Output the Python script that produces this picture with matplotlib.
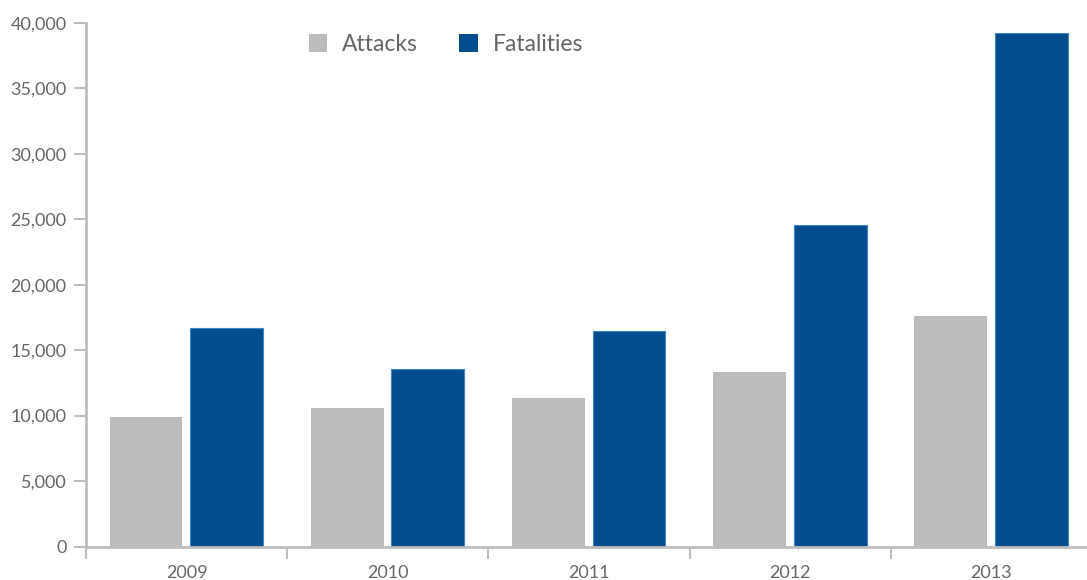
import matplotlib
matplotlib.use("Agg")
import matplotlib.pyplot as plt
import numpy as np
from matplotlib.patches import Patch

years = ["2009", "2010", "2011", "2012", "2013"]
attacks = [9900, 10550, 11320, 13310, 17600]
fatalities = [16700, 13550, 16450, 24560, 39250]
yticks = [0, 5000, 10000, 15000, 20000, 25000, 30000, 35000, 40000]

plt.rcParams['font.family'] = ['Lato', 'DejaVu Sans']

W, H = 1087, 580
fig = plt.figure(figsize=(W / 100, H / 100), dpi=100)
ax = fig.add_axes([86 / W, (H - 546.5) / H, 1006 / W, 523.5 / H])

grey = "#bcbcbc"
blue = "#034c8d"
axis_col = "#bdbdbd"
text_col = "#666666"

x = np.arange(len(years))
bw = 0.362
ax.bar(x - 0.202, attacks, width=bw, color=grey, edgecolor=grey, linewidth=0, zorder=2)
ax.bar(x + 0.199, fatalities, width=bw, color=blue, edgecolor="#3f86c8", linewidth=0.8, zorder=2)

ax.set_xlim(-0.5, len(years) - 0.5)
ax.set_ylim(0, 40000)

for s in ["top", "right"]:
    ax.spines[s].set_visible(False)
for s in ["left", "bottom"]:
    ax.spines[s].set_color(axis_col)
    ax.spines[s].set_linewidth(2)
ax.spines["bottom"].set_zorder(3)

ax.set_yticks(yticks)
ax.set_yticklabels([f"{v:,}" for v in yticks])
ax.tick_params(axis="y", direction="out", length=9, width=1.5, color=axis_col,
               labelcolor=text_col, labelsize=13, pad=5)

ax.set_xticks(x)
ax.set_xticklabels(years)
ax.set_xticks(np.arange(len(years) + 1) - 0.5, minor=True)
ax.tick_params(axis="x", which="major", length=0, labelcolor=text_col, labelsize=13, pad=13)
ax.tick_params(axis="x", which="minor", direction="out", length=8.5, width=1.5, color=axis_col)

handles = [Patch(facecolor=grey, edgecolor="none", label="Attacks"),
           Patch(facecolor=blue, edgecolor="none", label="Fatalities")]
leg = fig.legend(handles=handles, loc="upper left", bbox_to_anchor=(309 / W, 1 - 34 / H),
                 ncol=2, frameon=False, fontsize=16.5, handlelength=0.8, handleheight=0.8,
                 handletextpad=0.65, columnspacing=1.8, borderpad=0, borderaxespad=0)
for t in leg.get_texts():
    t.set_color(text_col)

fig.savefig("out.png", dpi=100)
